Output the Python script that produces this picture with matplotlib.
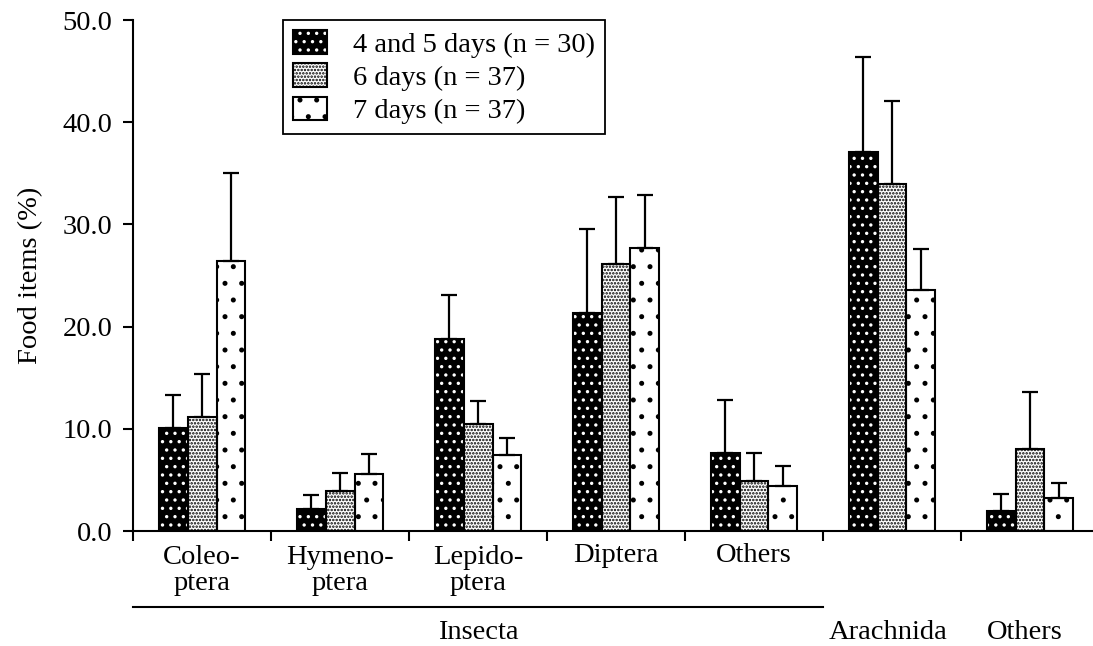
import numpy as np
import matplotlib
matplotlib.use('Agg')
import matplotlib.pyplot as plt
from matplotlib.patches import Patch
from matplotlib.legend_handler import HandlerTuple

plt.rcParams['font.family'] = ['Liberation Serif', 'DejaVu Serif']
plt.rcParams['hatch.linewidth'] = 1.2

# data (% of food items, mean and upper end of error bar)
groups = ['Coleo-\nptera', 'Hymeno-\nptera', 'Lepido-\nptera', 'Diptera', 'Others', '', '']
series = ['4 and 5 days (n = 30)', '6 days (n = 37)', '7 days (n = 37)']
d45 = [10.1, 2.2, 18.8, 21.3, 7.6, 37.1, 2.0]
d45_top = [13.3, 3.5, 23.1, 29.6, 12.8, 46.4, 3.6]
d6 = [11.2, 3.9, 10.5, 26.1, 4.9, 34.0, 8.0]
d6_top = [15.4, 5.7, 12.7, 32.7, 7.6, 42.1, 13.6]
d7 = [26.4, 5.6, 7.4, 27.7, 4.4, 23.6, 3.2]
d7_top = [35.0, 7.5, 9.1, 32.9, 6.4, 27.6, 4.7]

fs = 20.5
fig = plt.figure(figsize=(10.93, 6.46), dpi=100)
ax = fig.add_axes([0.1217, 0.178, 0.8783, 0.791])

x = np.arange(len(groups)) + 0.5
w = 0.21
styles = [  # face, hatch, hatch colour
    ('black', '..', 'white'),
    ('white', '.....', 'black'),
    ('white', '.', 'black'),
]
handles = []
for k, (vals, tops) in enumerate([(d45, d45_top), (d6, d6_top), (d7, d7_top)]):
    face, hatch, hcol = styles[k]
    xs = x + (k - 1) * w
    ax.bar(xs, vals, w, color=face, linewidth=0, zorder=2)
    ax.bar(xs, vals, w, facecolor='none', edgecolor=hcol, hatch=hatch, linewidth=0, zorder=3)
    ax.bar(xs, vals, w, facecolor='none', edgecolor='black', linewidth=1.5, zorder=4)
    err = np.array(tops) - np.array(vals)
    ax.errorbar(xs, vals, yerr=[np.zeros(len(vals)), err], fmt='none', ecolor='black',
                elinewidth=1.6, capsize=6, capthick=1.6, zorder=5)
    handles.append((Patch(facecolor=face, linewidth=0),
                    Patch(facecolor='none', edgecolor=hcol, hatch=hatch, linewidth=0),
                    Patch(facecolor='none', edgecolor='black', linewidth=1.5)))

ax.set_xlim(0, 960 / 138)
ax.set_ylim(0, 50)
ax.set_yticks(np.arange(0, 51, 10))
ax.set_yticklabels(['%.1f' % v for v in np.arange(0, 51, 10)], fontsize=fs)
ax.set_xticks(np.arange(0, 7))
ax.set_xticklabels([])
ax.tick_params(axis='both', direction='out', length=7, width=1.5, pad=8)
for s in ['top', 'right']:
    ax.spines[s].set_visible(False)
for s in ['left', 'bottom']:
    ax.spines[s].set_linewidth(1.5)
ax.set_ylabel('Food items (%)', fontsize=fs, labelpad=14)

tr = ax.get_xaxis_transform()
for xi, g in zip(x, groups):
    if '\n' in g:
        ax.text(xi, -0.078, g, transform=tr, ha='center', va='center', fontsize=fs, linespacing=1.05)
    elif g:
        ax.text(xi, -0.047, g, transform=tr, ha='center', va='center', fontsize=fs)
ax.plot([0, 5], [-0.149, -0.149], transform=tr, color='black', linewidth=1.5, clip_on=False)
ax.text(2.5, -0.198, 'Insecta', transform=tr, ha='center', va='center', fontsize=fs)
ax.text(5.47, -0.198, 'Arachnida', transform=tr, ha='center', va='center', fontsize=fs)
ax.text(6.46, -0.198, 'Others', transform=tr, ha='center', va='center', fontsize=fs)

leg = fig.legend(handles, series, loc='upper left', bbox_to_anchor=(283 / 1093, 1 - 20 / 646),
                 handler_map={tuple: HandlerTuple(ndivide=1, pad=0)}, fontsize=fs,
                 fancybox=False, framealpha=1, edgecolor='black', borderaxespad=0,
                 handlelength=1.2, handleheight=0.9, handletextpad=0.9, labelspacing=0.2,
                 borderpad=0.35)
leg.get_frame().set_linewidth(1.3)

fig.savefig('out.png', dpi=100)
